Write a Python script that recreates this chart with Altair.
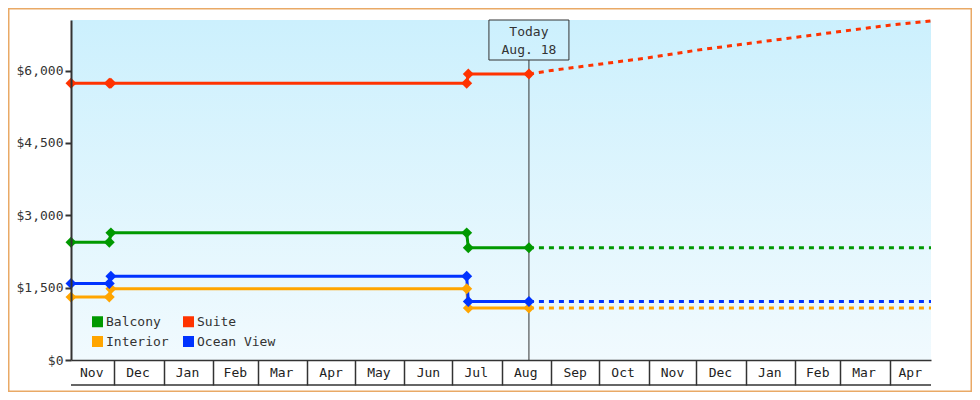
import altair as alt
import pandas as pd

FONT = "DejaVu Sans Mono"

series = ["Balcony", "Suite", "Interior", "Ocean View"]
colors = ["#009900", "#ff3300", "#ffa500", "#0033ff"]

hist_dates = ["2012-11-04", "2012-11-28", "2012-11-29", "2013-07-10", "2013-07-11", "2013-08-18"]
balcony_hist = [2440, 2440, 2636, 2636, 2326, 2326]
suite_hist = [5740, 5740, 5740, 5740, 5932, 5932]
interior_hist = [1304, 1304, 1477, 1477, 1076, 1076]
ocean_hist = [1587, 1587, 1738, 1738, 1215, 1215]

suite_fc_dates = ["2013-08-18", "2013-09-01", "2013-10-01", "2013-11-01", "2013-12-01",
                  "2014-01-01", "2014-02-01", "2014-03-01", "2014-04-01", "2014-04-27"]
suite_fc = [5932, 6003, 6133, 6267, 6423, 6557, 6690, 6811, 6942, 7029]
flat_fc_dates = ["2013-08-18", "2014-04-27"]
balcony_fc = [2326, 2326]
interior_fc = [1076, 1076]
ocean_fc = [1215, 1215]

month_labels = ["Nov", "Dec", "Jan", "Feb", "Mar", "Apr", "May", "Jun", "Jul", "Aug",
                "Sep", "Oct", "Nov", "Dec", "Jan", "Feb", "Mar", "Apr"]
month_label_dates = ["2012-11-17", "2012-12-16", "2013-01-16", "2013-02-15", "2013-03-16",
                     "2013-04-16", "2013-05-16", "2013-06-16", "2013-07-16", "2013-08-16",
                     "2013-09-16", "2013-10-16", "2013-11-16", "2013-12-16", "2014-01-16",
                     "2014-02-15", "2014-03-16", "2014-04-14"]
month_starts = ["2012-12-01", "2013-01-01", "2013-02-01", "2013-03-01", "2013-04-01",
                "2013-05-01", "2013-06-01", "2013-07-01", "2013-08-01", "2013-09-01",
                "2013-10-01", "2013-11-01", "2013-12-01", "2014-01-01", "2014-02-01",
                "2014-03-01", "2014-04-01"]
x_domain = ["2012-11-04", "2014-04-27"]
y_ticks = [0, 1500, 3000, 4500, 6000]
y_max = 7050
today_date = "2013-08-18"
today_text = "Today\nAug. 18"

W, H = 860, 340
hex_of = dict(zip(series, colors))


def dt(s):
    t = pd.Timestamp(s)
    return alt.DateTime(year=t.year, month=t.month, date=t.day, utc=True)


def frame(dates, values, name):
    return pd.DataFrame({"date": dates, "price": values, "series": name, "hex": hex_of[name]})


hist_df = pd.concat([
    frame(hist_dates, balcony_hist, "Balcony"),
    frame(hist_dates, suite_hist, "Suite"),
    frame(hist_dates, interior_hist, "Interior"),
    frame(hist_dates, ocean_hist, "Ocean View"),
])
fc_df = pd.concat([
    frame(flat_fc_dates, balcony_fc, "Balcony"),
    frame(suite_fc_dates, suite_fc, "Suite"),
    frame(flat_fc_dates, interior_fc, "Interior"),
    frame(flat_fc_dates, ocean_fc, "Ocean View"),
])
month_df = pd.DataFrame({"date": month_label_dates, "label": month_labels})
today_df = pd.DataFrame({"date": [today_date], "text": [today_text]})
one = pd.DataFrame({"k": [0]})

x_enc = alt.X(
    "date:T",
    scale=alt.Scale(type="utc", domain=[dt(d) for d in x_domain], nice=False),
    axis=alt.Axis(values=[dt(d) for d in month_starts], labels=False, title=None, grid=False,
                  tickSize=25, tickColor="#333333", tickWidth=1.5,
                  domainColor="#333333", domainWidth=1.5, zindex=1),
)
y_enc = alt.Y(
    "price:Q",
    scale=alt.Scale(domain=[0, y_max], nice=False, zero=True),
    axis=alt.Axis(values=y_ticks, format="$,.0f", title=None, grid=False,
                  domainColor="#333333", domainWidth=2, tickColor="#333333", tickWidth=2,
                  tickSize=6, labelFont=FONT, labelFontSize=13, labelColor="#333333",
                  labelPadding=2, zindex=1),
)
color_scale = alt.Scale(domain=series, range=colors)
color_legend = alt.Color(
    "series:N", scale=color_scale,
    legend=alt.Legend(orient="none", legendX=20, legendY=295, direction="horizontal",
                      columns=2, title=None, symbolType="square", symbolSize=121,
                      symbolStrokeWidth=0, symbolOpacity=1, labelFont=FONT,
                      labelFontSize=13, labelColor="#333333", labelOffset=2,
                      columnPadding=13, rowPadding=6, padding=0, zindex=2),
)
stroke_plain = alt.Stroke("hex:N", scale=None)

bg = alt.Chart(one).mark_rect(
    fill=alt.LinearGradient(
        gradient="linear",
        stops=[alt.GradientStop(color="#ccf0fd", offset=0),
               alt.GradientStop(color="#f1fafe", offset=1)],
        x1=0, x2=0, y1=0, y2=1),
).encode(x=alt.value(0), x2=alt.value(W), y=alt.value(0), y2=alt.value(H))

border = alt.Chart(one).mark_rect(fillOpacity=0, stroke="#e9a966", strokeWidth=1.5).encode(
    x=alt.value(-62.25), x2=alt.value(W + 40.25), y=alt.value(-11.25), y2=alt.value(H + 31.25))

today_rule = alt.Chart(today_df).mark_rule(color="#333333", strokeWidth=1).encode(
    x=x_enc, y=alt.value(40), y2=alt.value(H))

hist_lines = alt.Chart(hist_df).mark_line(strokeWidth=3).encode(
    x=x_enc, y=y_enc, stroke=stroke_plain, detail="series:N")
fc_lines = alt.Chart(fc_df).mark_line(strokeWidth=3, strokeDash=[5, 5]).encode(
    x=x_enc, y=y_enc, stroke=stroke_plain, detail="series:N")
hist_points = alt.Chart(hist_df).mark_point(shape="diamond", filled=True, size=120, opacity=1).encode(
    x=x_enc, y=y_enc, color=color_legend)

today_box = alt.Chart(today_df).mark_point(
    shape="M-1,-0.5H1V0.5H-1Z", size=6400, filled=False, stroke="#333333",
    strokeWidth=1, opacity=1).encode(x=x_enc, y=alt.value(20))
today_label = alt.Chart(today_df).mark_text(
    font=FONT, fontSize=13, color="#333333", baseline="middle", align="center",
    lineBreak="\n", lineHeight=18).encode(x=x_enc, y=alt.value(12), text="text:N")

month_text = alt.Chart(month_df).mark_text(
    font=FONT, fontSize=13, color="#222222", baseline="middle", align="center").encode(
    x=x_enc, y=alt.value(H + 12.5), text="label:N")
bottom_rule = alt.Chart(one).mark_rule(color="#333333", strokeWidth=1.5).encode(
    x=alt.value(0), x2=alt.value(W), y=alt.value(H + 25))

chart = alt.layer(
    bg, border, today_rule, hist_lines, fc_lines, hist_points,
    today_box, today_label, month_text, bottom_rule,
).properties(
    width=W, height=H,
    padding={"left": 63, "top": 12, "right": 41, "bottom": 32},
    autosize=alt.AutoSizeParams(type="none"),
    background="white",
).configure_view(stroke=None)

chart.save("out.html", embed_options={"renderer": "svg", "actions": False})
